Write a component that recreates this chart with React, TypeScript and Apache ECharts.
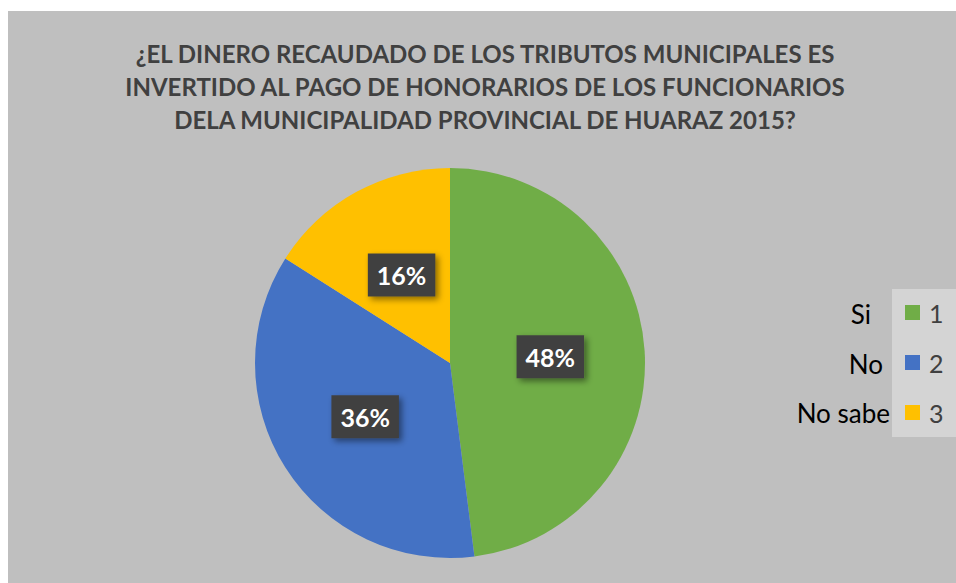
import React, { useEffect, useRef } from "react";
import * as echarts from "echarts";

const titleLines = [
  "¿EL DINERO RECAUDADO DE LOS TRIBUTOS MUNICIPALES ES",
  "INVERTIDO AL PAGO DE HONORARIOS DE LOS FUNCIONARIOS",
  "DELA MUNICIPALIDAD PROVINCIAL DE HUARAZ 2015?",
];
const categories = ["Si", "No", "No sabe"];
const codes = ["1", "2", "3"];
const values = [48, 36, 16];
const colors = ["#70ad47", "#4472c4", "#ffc000"];

export default function App() {
  const ref = useRef<HTMLDivElement>(null);
  useEffect(() => {
    if (!ref.current) return;
    const chart = echarts.init(ref.current, null, { renderer: "svg" });
    const font = "Lato, 'Open Sans', sans-serif";
    const catPos = [
      { x: 871, y: 314 },
      { x: 883, y: 364 },
      { x: 890, y: 413 },
    ];
    chart.setOption({
      animation: false,
      backgroundColor: "#ffffff",
      title: {
        text: titleLines.join("\n"),
        left: 485,
        top: 37,
        textAlign: "center",
        padding: 0,
        textStyle: {
          fontFamily: font,
          fontWeight: "bold",
          fontSize: 24,
          lineHeight: 33,
          color: "#404040",
        },
      },
      legend: {
        orient: "vertical",
        left: 892,
        top: 289,
        backgroundColor: "#d4d4d4",
        padding: [11, 20, 12, 13],
        itemGap: 25,
        itemWidth: 15,
        itemHeight: 15,
        icon: "rect",
        data: codes,
        textStyle: {
          fontFamily: font,
          fontSize: 25,
          lineHeight: 22,
          color: "#404040",
          padding: [0, 0, 0, 4],
        },
      },
      graphic: [
        {
          type: "rect",
          z: -10,
          silent: true,
          shape: { x: 8, y: 11, width: 948, height: 572 },
          style: { fill: "#bfbfbf" },
        },
        ...categories.map((c, i) => ({
          type: "text",
          x: catPos[i].x,
          y: catPos[i].y,
          style: {
            text: c,
            fontFamily: font,
            fontSize: 26,
            fill: "#000000",
            align: "right",
            verticalAlign: "middle",
          },
        })),
      ],
      series: [
        {
          type: "pie",
          center: [450, 363],
          radius: [0, 195],
          startAngle: 90,
          clockwise: true,
          data: values.map((v, i) => ({
            name: codes[i],
            value: v,
            itemStyle: { color: colors[i] },
          })),
          label: {
            show: true,
            position: "inside",
            formatter: (p: any) => p.value + "%",
            color: "#ffffff",
            fontFamily: font,
            fontWeight: "bold",
            fontSize: 25,
            backgroundColor: "#404040",
            padding: [10, 9, 8, 9],
            shadowColor: "rgba(0,0,0,0.45)",
            shadowBlur: 6,
            shadowOffsetX: 3,
            shadowOffsetY: 3,
          },
          labelLine: { show: false },
          emphasis: { disabled: true },
        },
      ],
    });
    return () => chart.dispose();
  }, []);
  return (
    <div
      ref={ref}
      style={{ position: "fixed", left: 0, top: 0, width: 956, height: 583 }}
    />
  );
}
